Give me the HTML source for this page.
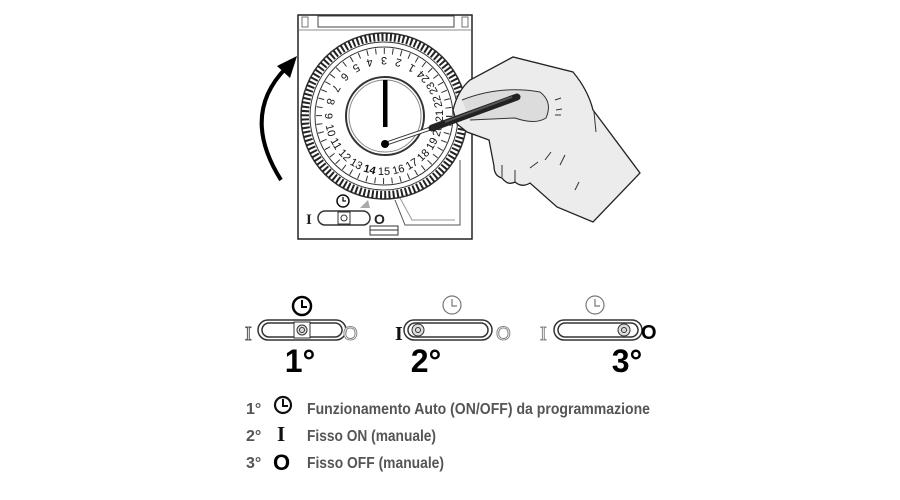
<!DOCTYPE html>
<html><head><meta charset="utf-8"><style>
html,body{margin:0;padding:0;background:#fff;}
svg{display:block;}
.lg{font-family:"Liberation Sans Narrow","Liberation Sans",sans-serif;font-weight:bold;fill:#555;font-size:16px;}
.big{font-family:"Liberation Sans Narrow","Liberation Sans",sans-serif;font-size:32px;font-weight:bold;fill:#000;text-anchor:middle;}
</style></head><body>
<svg width="900" height="500" viewBox="0 0 900 500" xmlns="http://www.w3.org/2000/svg">
<defs>
<g id="sw">
  <rect x="0" y="0" width="88" height="20" rx="10" fill="#fff" stroke="#333" stroke-width="1.5"/>
  <rect x="4" y="3" width="80" height="14" rx="7" fill="#fff" stroke="#333" stroke-width="1.5"/>
</g>
</defs>
<!-- device body -->
<rect x="298" y="15" width="174" height="224" fill="#fff" stroke="#222" stroke-width="1.5"/>
<rect x="318" y="16" width="136" height="11" fill="#fff" stroke="#444" stroke-width="1"/>
<line x1="298" y1="30" x2="472" y2="30" stroke="#666" stroke-width="0.8"/>
<rect x="302" y="17" width="6" height="10" fill="none" stroke="#555" stroke-width="0.8"/>
<rect x="462" y="17" width="6" height="10" fill="none" stroke="#555" stroke-width="0.8"/>
<path d="M395,200 L405,225 L460,225 L460,160" fill="none" stroke="#555" stroke-width="1"/>
<path d="M400,198 L412,220 L455,220" fill="none" stroke="#999" stroke-width="1"/>
<rect x="370" y="226" width="28" height="9" fill="#fff" stroke="#333" stroke-width="1"/>
<line x1="370" y1="230" x2="398" y2="230" stroke="#333"/>
<!-- dial -->
<circle cx="384" cy="116" r="83" fill="#fff" stroke="#333" stroke-width="1.5"/>
<circle cx="384" cy="116" r="79" fill="none" stroke="#222" stroke-width="8" stroke-dasharray="2 2.2"/>
<circle cx="384" cy="116" r="74" fill="none" stroke="#333" stroke-width="1"/>
<circle cx="384" cy="116" r="69" fill="none" stroke="#333" stroke-width="1"/>
<circle cx="384" cy="116" r="65" fill="none" stroke="#333" stroke-width="6" stroke-dasharray="1 7.5"/>
<g id="nums" font-family="Liberation Sans,sans-serif" font-size="11" fill="#111" text-anchor="middle"></g>
<circle cx="385" cy="116" r="39" fill="#fff" stroke="#333" stroke-width="2"/>
<circle cx="385" cy="116" r="36" fill="none" stroke="#888" stroke-width="1"/>
<rect x="383" y="80" width="4.5" height="47" fill="#000"/>
<line x1="385" y1="144" x2="432" y2="128" stroke="#333" stroke-width="4"/>
<line x1="385" y1="144" x2="432" y2="128" stroke="#fff" stroke-width="2"/>
<circle cx="385" cy="144" r="4" fill="#000"/>
<!-- device switch -->
<text x="306" y="224" font-family="Liberation Serif,serif" font-size="15" font-weight="bold" fill="#222">I</text>
<rect x="318" y="211" width="52" height="14" rx="7" fill="#fff" stroke="#333" stroke-width="1.5"/>
<rect x="338" y="212" width="12" height="12" fill="#fff" stroke="#333"/>
<circle cx="344" cy="218" r="3" fill="none" stroke="#333"/>
<text x="374" y="224" font-family="Liberation Sans,sans-serif" font-size="14" font-weight="bold" fill="#222">O</text>
<circle cx="343" cy="201" r="6" fill="#fff" stroke="#111" stroke-width="1.5"/>
<path d="M343,197 V201 H346" fill="none" stroke="#111" stroke-width="1.3"/>
<path d="M360,208 L368,200 L370,208 Z" fill="#aaa"/>
<!-- curved arrow -->
<path d="M281,180 Q240,115 286,68" fill="none" stroke="#000" stroke-width="4"/>
<path d="M297,56 L277,66 L290,78 Z" fill="#000"/>
<!-- hand -->
<path d="M453,110 Q458,90 470,80 L513,57 L573,72 Q588,90 593,110 L640,173 L593,222 L557,207 L530,183 Q522,188 515,182 Q508,186 502,178 Q494,176 494,166 L489,140 L467,132 L457,124 Z" fill="#ececec" stroke="#222" stroke-width="1.3"/>
<path d="M462,100 Q500,85 540,92 Q553,102 546,118 Q535,125 515,118 L470,120" fill="#dcdcdc" stroke="#333" stroke-width="1"/>
<line x1="432" y1="128" x2="517" y2="97" stroke="#222" stroke-width="7" stroke-linecap="round"/>
<line x1="445" y1="122" x2="512" y2="97" stroke="#555" stroke-width="2"/>
<path d="M555,100 l6,-2 M556,110 l6,-1 M555,115 l6,0 M594,112 l2,20 M545,160 l6,-8 M560,165 l5,-10 M575,190 l4,-8 M530,168 l8,-6 M502,165 l0,12 M515,170 l0,12" stroke="#333" stroke-width="1" fill="none"/>
<!-- bottom switches -->
<g transform="translate(258,320)"><use href="#sw"/><rect x="36" y="2" width="16" height="16" fill="#fff" stroke="#333"/><circle cx="44" cy="10" r="5" fill="#ddd" stroke="#333"/><circle cx="44" cy="10" r="2.5" fill="none" stroke="#333"/></g>
<text x="245" y="340" font-family="Liberation Serif,serif" font-size="20" fill="#fff" stroke="#555" stroke-width="1">I</text>
<text x="343" y="340" font-family="Liberation Sans,sans-serif" font-size="19" fill="#fff" stroke="#888" stroke-width="1">O</text>
<circle cx="302" cy="306" r="9" fill="#fff" stroke="#000" stroke-width="2.5"/><path d="M302,300 V307 H307" fill="none" stroke="#000" stroke-width="2"/>
<text class="big" x="300" y="372">1°</text>

<g transform="translate(404,320)"><use href="#sw"/><circle cx="14" cy="10" r="6" fill="#ddd" stroke="#333"/><circle cx="14" cy="10" r="2.5" fill="none" stroke="#333"/></g>
<text x="395" y="340" font-family="Liberation Serif,serif" font-size="20" font-weight="bold" fill="#111">I</text>
<text x="496" y="340" font-family="Liberation Sans,sans-serif" font-size="19" fill="#fff" stroke="#888" stroke-width="1">O</text>
<circle cx="452" cy="305" r="9" fill="#fff" stroke="#777" stroke-width="1.2"/><path d="M452,299 V306 H457" fill="none" stroke="#777" stroke-width="1.2"/>
<text class="big" x="426" y="372">2°</text>

<g transform="translate(554,320)"><use href="#sw"/><circle cx="70" cy="10" r="6" fill="#ddd" stroke="#333"/><circle cx="70" cy="10" r="2.5" fill="none" stroke="#333"/></g>
<text x="540" y="340" font-family="Liberation Serif,serif" font-size="20" fill="#fff" stroke="#888" stroke-width="1">I</text>
<text x="641" y="339" font-family="Liberation Sans,sans-serif" font-size="20" font-weight="bold" fill="#000">O</text>
<circle cx="595" cy="305" r="9" fill="#fff" stroke="#777" stroke-width="1.2"/><path d="M595,299 V306 H600" fill="none" stroke="#777" stroke-width="1.2"/>
<text class="big" x="627" y="372">3°</text>
<!-- legend -->
<text class="lg" x="246" y="414">1°</text>
<circle cx="283" cy="405" r="8" fill="#fff" stroke="#111" stroke-width="2.2"/><path d="M283,399 V406 H288" fill="none" stroke="#111" stroke-width="2"/>
<text class="lg" x="307" y="414" textLength="343" lengthAdjust="spacingAndGlyphs">Funzionamento Auto (ON/OFF) da programmazione</text>
<text class="lg" x="246" y="441">2°</text>
<text x="277" y="441" font-family="Liberation Serif,serif" font-size="21" font-weight="bold" fill="#111">I</text>
<text class="lg" x="307" y="441" textLength="129" lengthAdjust="spacingAndGlyphs">Fisso ON (manuale)</text>
<text class="lg" x="246" y="468">3°</text>
<text x="273" y="470" font-family="Liberation Sans,sans-serif" font-size="22" font-weight="bold" fill="#000">O</text>
<text class="lg" x="307" y="468" textLength="137" lengthAdjust="spacingAndGlyphs">Fisso OFF (manuale)</text>
</svg>
<script>
var g=document.getElementById('nums'),s='';
for(var h=1;h<=24;h++){var a=(h-3)*15*Math.PI/180,r=55;var x=384-r*Math.sin(a),y=116-r*Math.cos(a);var rot=180-(h-3)*15;
s+='<text transform="translate('+x.toFixed(1)+','+y.toFixed(1)+') rotate('+rot+')" y="4"'+(h==14?' font-weight="bold"':'')+'>'+h+'</text>';}
g.innerHTML=s;
</script>
</body></html>
